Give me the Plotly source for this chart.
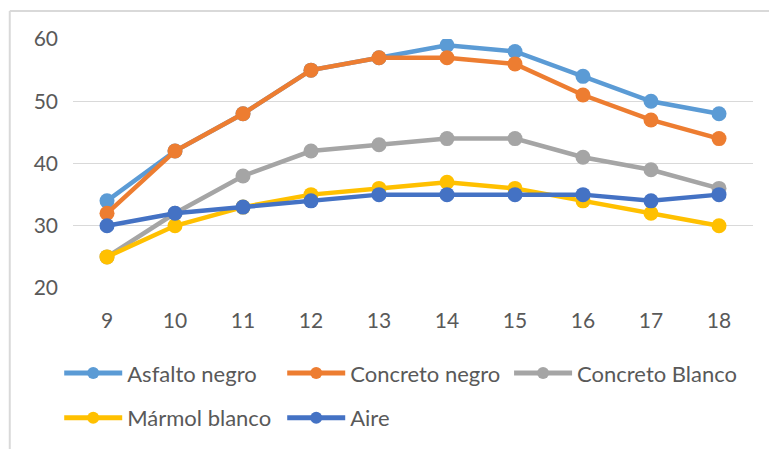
import plotly.graph_objects as go

horas = [9, 10, 11, 12, 13, 14, 15, 16, 17, 18]
asfalto_negro = [34, 42, 48, 55, 57, 59, 58, 54, 50, 48]
concreto_negro = [32, 42, 48, 55, 57, 57, 56, 51, 47, 44]
concreto_blanco = [25, 32, 38, 42, 43, 44, 44, 41, 39, 36]
marmol_blanco = [25, 30, 33, 35, 36, 37, 36, 34, 32, 30]
aire = [30, 32, 33, 34, 35, 35, 35, 35, 34, 35]

series = [
    ("Asfalto negro", asfalto_negro, "#5B9BD5", "legend"),
    ("Concreto negro", concreto_negro, "#ED7D31", "legend"),
    ("Concreto Blanco", concreto_blanco, "#A5A5A5", "legend3"),
    ("Mármol blanco", marmol_blanco, "#FFC000", "legend2"),
    ("Aire", aire, "#4472C4", "legend2"),
]

FONT = "Lato, 'Open Sans', sans-serif"
TXT = "#595959"

fig = go.Figure()
for name, vals, color, lg in series:
    fig.add_trace(go.Scatter(
        x=[str(h) for h in horas], y=vals, name=name, mode="lines+markers",
        line=dict(color=color, width=4.5),
        marker=dict(color=color, size=15),
        legend=lg,
    ))

legend_common = dict(
    orientation="h", xanchor="left", yanchor="middle",
    xref="container", yref="container",
    font=dict(family=FONT, size=22, color=TXT),
    bgcolor="rgba(0,0,0,0)", itemwidth=58,
    itemsizing="constant",
)

fig.update_layout(
    width=769, height=449, autosize=False,
    margin=dict(l=73, r=16, t=39, b=161, autoexpand=False),
    paper_bgcolor="white", plot_bgcolor="white",
    font=dict(family=FONT, size=21, color=TXT),
    showlegend=True,
    legend=dict(x=0.077, y=0.169, entrywidth=150, **legend_common),
    legend2=dict(x=0.077, y=0.069, entrywidth=150, **legend_common),
    legend3=dict(x=0.662, y=0.169, **legend_common),
    xaxis=dict(
        type="category", range=[-0.5, len(horas) - 0.5],
        showgrid=False, zeroline=False, showline=False, automargin=False,
        ticks="", ticklabelstandoff=18, tickfont=dict(size=21, color=TXT),
    ),
    yaxis=dict(
        range=[20, 60], tickvals=[20, 30, 40, 50, 60], showgrid=True,
        automargin=False,
        gridcolor="#D9D9D9", gridwidth=1.3, zeroline=False, showline=False,
        ticks="", ticklabelstandoff=14, tickfont=dict(size=21, color=TXT),
    ),
    shapes=[
        dict(type="line", xref="paper", yref="paper", x0=-0.093, x1=-0.093,
             y0=1.112, y1=-1.0, line=dict(color="#D9D9D9", width=2)),
        dict(type="line", xref="paper", yref="paper", x0=-0.093, x1=1.1,
             y0=1.112, y1=1.112, line=dict(color="#D9D9D9", width=2)),
    ],
)

fig.write_html(
    "out.html",
    config={"responsive": False, "displayModeBar": False},
    post_script="document.body.style.margin='0';",
)
